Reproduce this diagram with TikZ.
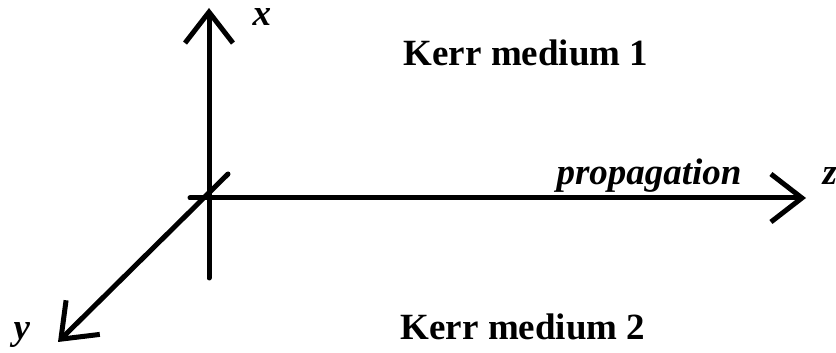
\documentclass[tikz,border=0pt]{standalone}
\usepackage{fontspec}
\setmainfont{Liberation Serif}
\usetikzlibrary{arrows.meta}

\begin{document}
\begin{tikzpicture}[x=1pt,y=1pt,line width=5pt,line cap=round,line join=round,
    font=\fontsize{37}{44}\selectfont\bfseries]
       \tikzstyle{axis}=[-{Straight Barb[length=31pt,width=48pt]}]
       \tikzstyle{lbl}=[inner sep=0pt,anchor=base west]
       \useasboundingbox (0,0) rectangle (836,353);

       \coordinate (x_0) at (209,75);
       \coordinate (x_1) at (209,345);
       \coordinate (z_0) at (190,155);
       \coordinate (z_1) at (806,155);
       \coordinate (y_0) at (228,179);
       \coordinate (y_1) at (58,11);

       \draw[axis] (x_0) -- (x_1);
       \draw[axis] (z_0) -- (z_1);
       \draw[axis] (y_0) -- (y_1);

       \node[lbl] (lbl_x) at (250,327) {\itshape x};
       \node[lbl] (lbl_y) at (11,13)   {\itshape y};
       \node[lbl] (lbl_z) at (820,168) {\itshape z};
       \node[lbl] (prop)  at (554,168) {\itshape propagation};
       \node[inner sep=0pt,anchor=base] (med_1) at (526,287) {Kerr medium 1};
       \node[inner sep=0pt,anchor=base] (med_2) at (523,13)  {Kerr medium 2};
\end{tikzpicture}
\end{document}
